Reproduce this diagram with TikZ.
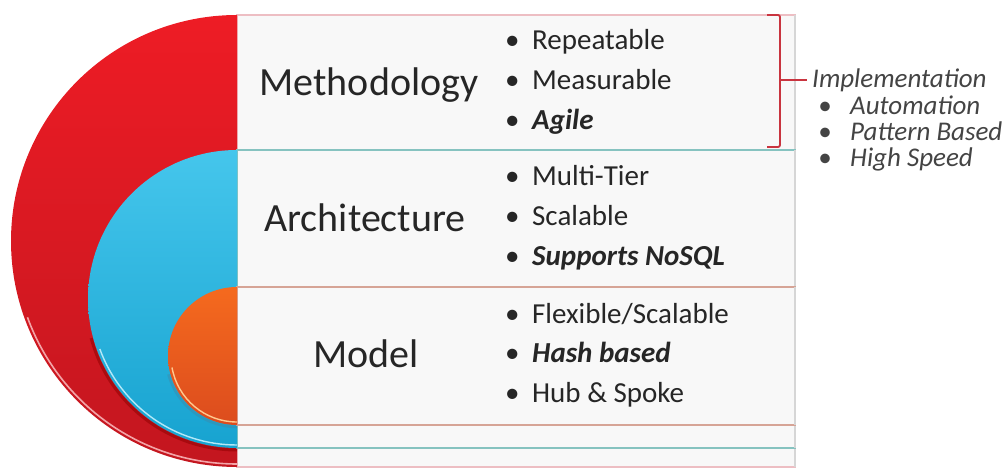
\documentclass[tikz,border=0pt]{standalone}
\usepackage{fontspec}
\setmainfont{Carlito}
\definecolor{txt}{HTML}{262626}
\definecolor{impltxt}{HTML}{444444}
\definecolor{panelbg}{HTML}{F8F8F8}
\definecolor{redtop}{HTML}{EE1C25}
\definecolor{redbot}{HTML}{C3161F}
\definecolor{redrim}{HTML}{F3A4A8}
\definecolor{redline}{HTML}{EDBEC3}
\definecolor{bluetop}{HTML}{45C6EC}
\definecolor{bluebot}{HTML}{17A3D0}
\definecolor{bluerim}{HTML}{B4E8F7}
\definecolor{blueline}{HTML}{86C3C0}
\definecolor{orangetop}{HTML}{F56A1E}
\definecolor{orangebot}{HTML}{DC4C1E}
\definecolor{orangerim}{HTML}{FFC98F}
\definecolor{orangeline}{HTML}{D6A496}
\definecolor{edgegray}{HTML}{D6D6D6}
\definecolor{bracketcol}{HTML}{C9343F}
\begin{document}
\begin{tikzpicture}[x=1pt,y=1pt,
  title/.style={anchor=base,inner sep=0pt,text=txt,font=\fontsize{40}{44}\selectfont},
  blist/.style={anchor=base west,inner sep=0pt,text=txt,font=\fontsize{29}{40}\selectfont},
  impl/.style={anchor=base west,inner sep=0pt,text=impltxt,font=\fontsize{27}{25}\selectfont\itshape},
  bracketline/.style={draw=bracketcol,line width=1.8pt,rounded corners=2pt}]
\useasboundingbox (0,0) rectangle (1007,469);
\newcommand{\bul}[1]{\makebox[27pt][l]{\textbullet}#1}
\newcommand{\ibul}[1]{\hspace*{6pt}\makebox[32pt][l]{\textbullet}#1}
% ---- red layer
\draw[draw=redline,line width=1.4pt,fill=panelbg] (237,2) rectangle (795,454);
\draw[edgegray,line width=1.4pt] (795,2) -- (795,454);
\shade[top color=redtop,bottom color=redbot] (237,454) arc[start angle=90,end angle=270,radius=226] -- cycle;
\draw[redrim,line width=1.6pt] (237,5) arc[start angle=270,end angle=200,radius=223];
% ---- blue layer
\draw[draw=blueline,line width=1.4pt,fill=panelbg] (237,21) rectangle (795,319);
\draw[edgegray,line width=1.4pt] (795,21) -- (795,319);
\draw[black!45!red,opacity=0.5,line width=3pt] (237,19) arc[start angle=270,end angle=195,radius=151];
\shade[top color=bluetop,bottom color=bluebot] (237,319) arc[start angle=90,end angle=270,radius=149] -- cycle;
\draw[bluerim,line width=1.4pt] (237,24) arc[start angle=270,end angle=200,radius=146];
% ---- orange layer
\draw[draw=orangeline,line width=1.4pt,fill=panelbg] (237,44) rectangle (795,182);
\draw[edgegray,line width=1.4pt] (795,44) -- (795,182);
\draw[black!40!cyan,opacity=0.4,line width=2.5pt] (237,42) arc[start angle=270,end angle=195,radius=71];
\shade[top color=orangetop,bottom color=orangebot] (237,182) arc[start angle=90,end angle=270,radius=69] -- cycle;
\draw[orangerim,line width=1.4pt] (237,47) arc[start angle=270,end angle=190,radius=66];
% ---- titles
\node[title] (meth) at (369,373) {Methodology};
\node[title] (arch) at (365,237) {Architecture};
\node[title] (model) at (366,102) {Model};
% ---- bullet lists
\node[blist] (methlist) at (505,419) {\begin{tabular}[t]{@{}l@{}}\bul{Repeatable}\\ \bul{Measurable}\\ \bul{\textbf{\textit{Agile}}}\end{tabular}};
\node[blist] (archlist) at (505,283) {\begin{tabular}[t]{@{}l@{}}\bul{Multi-Tier}\\ \bul{Scalable}\\ \bul{\textbf{\textit{Supports NoSQL}}}\end{tabular}};
\node[blist] (modellist) at (505,146) {\begin{tabular}[t]{@{}l@{}}\bul{Flexible/Scalable}\\ \bul{\textbf{\textit{Hash based}}}\\ \bul{Hub \& Spoke}\end{tabular}};
% ---- bracket and implementation
\draw[bracketline] (767,454) -- (780,454) -- (780,322) -- (767,322);
\coordinate (brk) at (780,389);
\coordinate (brkend) at (807,389);
\draw[draw=bracketcol,line width=1.8pt] (brk) -- (brkend);
\node[impl] (impllist) at (812,381) {\begin{tabular}[t]{@{}l@{}}Implementation\\ \ibul{Automation}\\ \ibul{Pattern Based}\\ \ibul{High Speed}\end{tabular}};
\end{tikzpicture}
\end{document}
